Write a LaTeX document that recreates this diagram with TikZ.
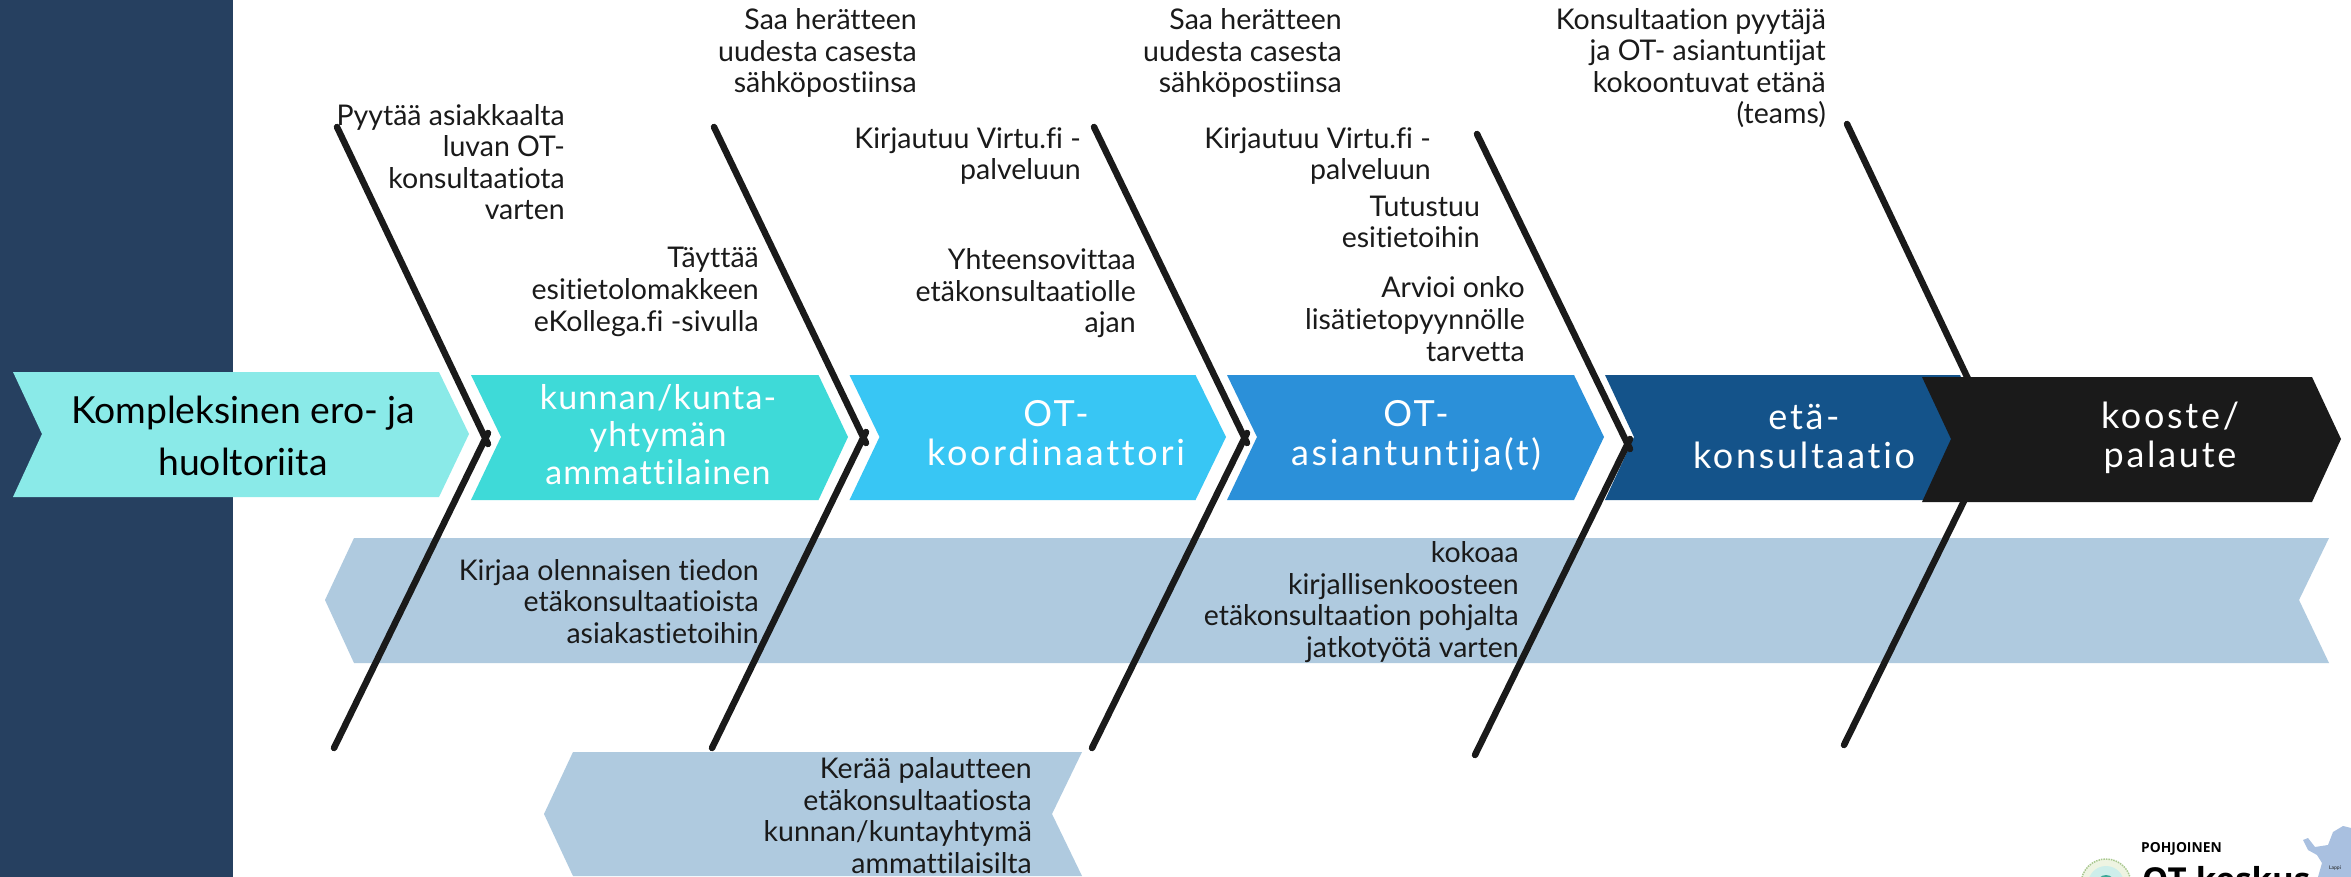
\documentclass[tikz,border=0pt]{standalone}
\usepackage{fontspec}
\setmainfont{Lato}[Ligatures=NoCommon]
\newfontfamily\labelfont{Lato}[Ligatures=NoCommon,LetterSpace=7.5]
\newfontfamily\labelfontB{Lato}[Ligatures=NoCommon,LetterSpace=3.5]
\newfontfamily\logofont{Open Sans}
\definecolor{side}{HTML}{264060}
\definecolor{cA}{HTML}{8AEAE8}
\definecolor{cB}{HTML}{3EDAD8}
\definecolor{cC}{HTML}{38C6F4}
\definecolor{cD}{HTML}{2B90D9}
\definecolor{cE}{HTML}{14538A}
\definecolor{ink}{HTML}{1A1A1A}
\definecolor{band}{HTML}{AFCADF}
\definecolor{mapblue}{HTML}{A9C0E0}
\definecolor{sealring}{HTML}{EEF4E2}
\definecolor{sealdot}{HTML}{A9C88F}
\definecolor{sealin}{HTML}{CDEEEA}
\definecolor{sealcore}{HTML}{3BA898}
\tikzset{
  note/.style={anchor=base east,align=right,inner sep=0pt,text=ink,font=\fontsize{28.5}{31.5}\selectfont},
  chevlabel/.style={anchor=base,align=center,inner sep=0pt,text=white,font=\labelfont\fontsize{36}{39}\selectfont},
  spine/.style={draw=ink,line width=6.5pt,line cap=round},
}
\begin{document}
\begin{tikzpicture}[x=1pt,y=-1pt]
\useasboundingbox (0,0) rectangle (2351,877);
\begin{scope}
\clip (0,0) rectangle (2351,877);
\fill[white] (0,0) rectangle (2351,877);
\fill[side] (0,0) rectangle (233,877);
% process chevrons
\fill[cA] (13,372) -- (439,372) -- (469,434) -- (439,497) -- (13,497) -- (42,434) -- cycle;
\fill[cB] (471,375) -- (818.5,375) -- (848,437) -- (818.5,500) -- (471,500) -- (501,437) -- cycle;
\fill[cC] (849.5,375) -- (1195.5,375) -- (1226,437) -- (1195.5,500) -- (849.5,500) -- (879.5,437) -- cycle;
\fill[cD] (1227,375) -- (1574,375) -- (1604,437) -- (1574,500) -- (1227,500) -- (1257,437) -- cycle;
\fill[cE] (1605,375) -- (1960,375) -- (1990,437) -- (1960,500) -- (1605,500) -- (1634,437) -- cycle;
% bands
\fill[band] (354,538) -- (2329,538) -- (2299,600) -- (2329,663) -- (354,663) -- (325,600) -- cycle;
\fill[band] (573,752) -- (1082,752) -- (1052,814) -- (1082,876) -- (573,876) -- (544,814) -- cycle;
% chevron labels
\node[chevlabel,text=black,font=\fontsize{37.3}{52}\selectfont] (need) at (243,475) {Kompleksinen ero- ja\\huoltoriita};
\node[chevlabel,font=\labelfontB\fontsize{34}{37.5}\selectfont] (kunta) at (658,484) {kunnan/kunta-\\yhtymän\\ammattilainen};
\node[chevlabel] (koord) at (1056,465) {OT-\\koordinaattori};
\node[chevlabel] (asian) at (1416,465) {OT-\\asiantuntija(t)};
\node[chevlabel] (eta) at (1804,468) {etä-\\konsultaatio};
% notes
\node[note] (n1) at (565,220) {Pyytää asiakkaalta\\luvan OT-\\konsultaatiota\\varten};
\node[note] (n2) at (917,93) {Saa herätteen\\uudesta casesta\\sähköpostiinsa};
\node[note] (n3) at (759,331) {Täyttää\\esitietolomakkeen\\eKollega.fi -sivulla};
\node[note] (n4) at (1081,180) {Kirjautuu Virtu.fi -\\palveluun};
\node[note] (n5) at (1136,333) {Yhteensovittaa\\etäkonsultaatiolle\\ajan};
\node[note] (n6) at (1342,93) {Saa herätteen\\uudesta casesta\\sähköpostiinsa};
\node[note] (n7) at (1431,180) {Kirjautuu Virtu.fi -\\palveluun};
\node[note] (n8) at (1480,248) {Tutustuu\\esitietoihin};
\node[note] (n9) at (1525,361) {Arvioi onko\\lisätietopyynnölle\\tarvetta};
\node[note] (n10) at (1826,124) {Konsultaation pyytäjä\\ja OT- asiantuntijat\\kokoontuvat etänä\\(teams)};
\node[note] (n11) at (759,643) {Kirjaa olennaisen tiedon\\etäkonsultaatioista\\asiakastietoihin};
\node[note] (n12) at (1519,657) {kokoaa\\kirjallisenkoosteen\\etäkonsultaation pohjalta\\jatkotyötä varten};
\node[note] (n13) at (1032,873) {Kerää palautteen\\etäkonsultaatiosta\\kunnan/kuntayhtymä\\ammattilaisilta};
% spines: each is two strokes that overlap slightly at the apex
\coordinate (a1) at (337,127); \coordinate (b1) at (488,444); \coordinate (d1) at (488,433); \coordinate (c1) at (334,748);
\coordinate (a2) at (714,127); \coordinate (b2) at (866,443); \coordinate (d2) at (866,432); \coordinate (c2) at (712,748);
\coordinate (a3) at (1094,127); \coordinate (b3) at (1247,443); \coordinate (d3) at (1247,433); \coordinate (c3) at (1092,748);
\coordinate (a4) at (1477,134); \coordinate (b4) at (1630,449); \coordinate (d4) at (1630,439); \coordinate (c4) at (1475,755);
\coordinate (a5) at (1847,124); \coordinate (b5) at (1998,442); \coordinate (d5) at (1998,432); \coordinate (c5) at (1844,745);
\draw[spine] (a1) -- (b1) (d1) -- (c1);
\draw[spine] (a2) -- (b2) (d2) -- (c2);
\draw[spine] (a3) -- (b3) (d3) -- (c3);
\draw[spine] (a4) -- (b4) (d4) -- (c4);
\draw[spine] (a5) -- (b5) (d5) -- (c5);
% last chevron covers the last spine
\fill[ink] (1922,377) -- (2312,377) -- (2341,439) -- (2312,502) -- (1922,502) -- (1951,439) -- cycle;
\node[chevlabel] (kooste) at (2170,467) {kooste/\\palaute};
% logo
\fill[mapblue] (2303,840) -- (2308,838) -- (2315,847) -- (2328,845) -- (2333,832) -- (2343,826) -- (2351,828) -- (2351,877) -- (2318,877) -- (2322,863) -- (2317,855) -- (2308,850) -- cycle;
\node[inner sep=0pt,text=ink,font=\fontsize{5}{5}\selectfont] (lappi) at (2335,868) {Lappi};
\draw[draw=sealdot,fill=sealring,line width=1.5pt,densely dotted] (2106,884) circle (25);
\fill[sealin] (2106,884) circle (18);
\fill[sealcore] (2106,884) circle (9);
\node[anchor=base west,inner sep=0pt,text=black,font=\logofont\bfseries\fontsize{13.8}{14}\selectfont] (pohj) at (2141,852) {POHJOINEN};
\node[anchor=base west,inner sep=0pt,text=black,font=\logofont\bfseries\fontsize{33}{33}\selectfont] (ot) at (2142,891) {OT-keskus};
\end{scope}
\end{tikzpicture}
\end{document}
